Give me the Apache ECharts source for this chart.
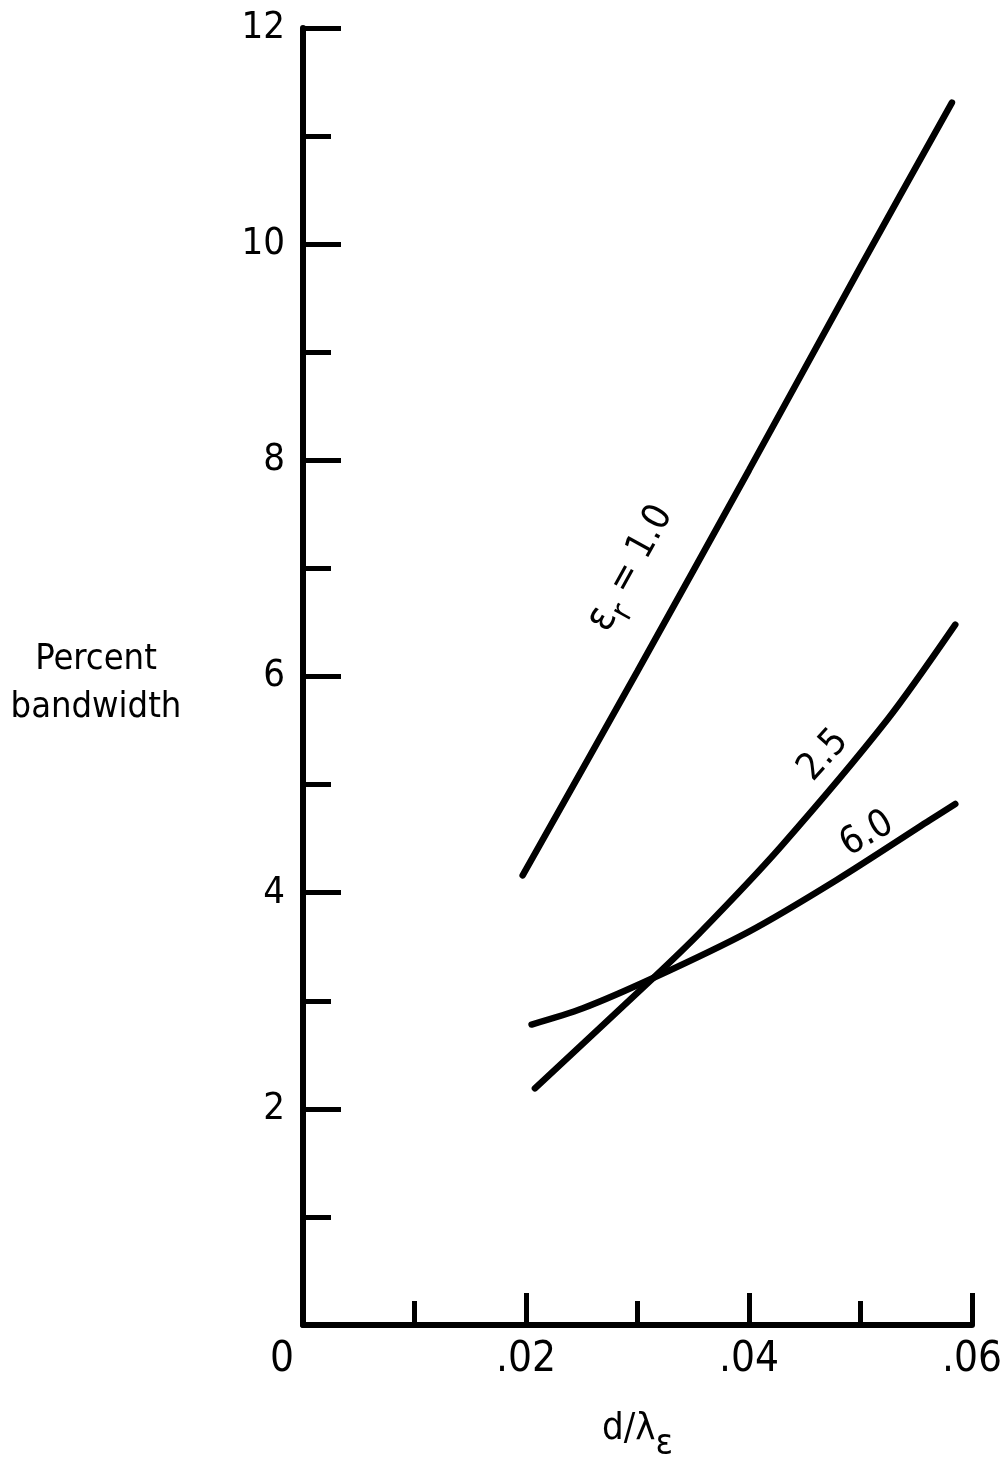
<!DOCTYPE html>
<html>
<head>
<meta charset="utf-8">
<script src="https://cdn.jsdelivr.net/npm/echarts@6/dist/echarts.min.js"></script>
<style>
html,body{margin:0;padding:0;background:#fff;}
#c{width:1000px;height:1466px;}
</style>
</head>
<body>
<div id="c"></div>
<script>
// ---- data ----
const xTickLabels = ['0', '.02', '.04', '.06'];
const yTickLabels = ['', '2', '4', '6', '8', '10', '12'];

const er10X = [0.0197, 0.0300, 0.0400, 0.0500, 0.0582];
const er10Y = [4.16, 6.05, 7.91, 9.79, 11.31];

const er25X = [0.0208, 0.0314, 0.0356, 0.0428, 0.0524, 0.0585];
const er25Y = [2.19, 3.21, 3.63, 4.42, 5.60, 6.48];

const er60X = [0.0205, 0.0251, 0.0314, 0.0400, 0.0479, 0.0562, 0.0585];
const er60Y = [2.78, 2.93, 3.21, 3.64, 4.12, 4.67, 4.82];

const curveNames = ['1.0', '2.5', '6.0'];

function pairs(xs, ys) { return xs.map((x, i) => [x, ys[i]]); }

const FONT = "'Liberation Sans Narrow', 'DejaVu Sans Condensed', sans-serif";
const FONT2 = "'DejaVu Sans Condensed', 'DejaVu Sans', sans-serif";

const chart = echarts.init(document.getElementById('c'), null, {renderer: 'canvas'});

function lineSeries(name, data, labelCoord, rot, labelText, rich) {
  return {
    name: name,
    type: 'line',
    data: data,
    smooth: 0.3,
    showSymbol: false,
    symbol: 'none',
    lineStyle: {color: '#000', width: 6.5, cap: 'round'},
    animation: false,
    markPoint: {
      symbol: 'circle',
      symbolSize: 0,
      data: [{coord: labelCoord}],
      label: {
        show: true,
        position: 'inside',
        rotate: rot,
        formatter: labelText,
        color: '#000',
        fontFamily: FONT2,
        fontSize: 38,
        align: 'center',
        verticalAlign: 'middle',
        rich: rich || {}
      }
    }
  };
}

const option = {
  backgroundColor: '#fff',
  animation: false,
  grid: {left: 303, right: 28, top: 28, bottom: 141, containLabel: false, outerBoundsMode: 'none'},
  xAxis: {
    type: 'value',
    min: 0, max: 0.06, interval: 0.02,
    name: 'd/λ{s|ε}',
    nameLocation: 'middle',
    nameGap: 70,
    nameTextStyle: {
      color: '#000', fontFamily: FONT2, fontSize: 38, lineHeight: 68,
      rich: {s: {fontSize: 36, fontFamily: FONT2, color: '#000', verticalAlign: 'bottom', lineHeight: 36}}
    },
    axisLine: {show: true, onZero: false, lineStyle: {color: '#000', width: 6}},
    axisTick: {show: true, inside: true, length: 32, lineStyle: {color: '#000', width: 5}},
    minorTick: {show: true, splitNumber: 2, length: 24, lineStyle: {color: '#000', width: 5}},
    splitLine: {show: false},
    minorSplitLine: {show: false},
    axisLabel: {
      color: '#000', fontFamily: FONT, fontSize: 42, margin: 14,
      formatter: function (v) {
        const i = Math.round(v / 0.02);
        const t = xTickLabels[i] || '';
        return i === 0 ? '{z|' + t + '}' : t;
      },
      rich: {z: {fontFamily: FONT, fontSize: 42, color: '#000', padding: [0, 42, 0, 0]}}
    }
  },
  yAxis: {
    type: 'value',
    min: 0, max: 12, interval: 2,
    axisLine: {show: true, onZero: false, lineStyle: {color: '#000', width: 6}},
    axisTick: {show: true, inside: true, length: 38, lineStyle: {color: '#000', width: 5}},
    minorTick: {show: true, splitNumber: 2, length: 28, lineStyle: {color: '#000', width: 5}},
    splitLine: {show: false},
    minorSplitLine: {show: false},
    axisLabel: {
      color: '#000', fontFamily: FONT, fontSize: 38, margin: 18,
      formatter: function (v) { return yTickLabels[Math.round(v / 2)] || ''; }
    }
  },
  graphic: [{
    type: 'text',
    x: 96, y: 636,
    style: {
      text: 'Percent\nbandwidth',
      fill: '#000',
      font: '36px ' + FONT2,
      align: 'center',
      verticalAlign: 'top',
      lineHeight: 48
    }
  }],
  series: [
    lineSeries(curveNames[0], pairs(er10X, er10Y), [0.0294, 7.0], 61,
      '{e|ε}{r|r}{t| = 1.0}',
      {e: {fontSize: 42, fontFamily: FONT2, color: '#000', lineHeight: 62},
       r: {fontSize: 32, fontFamily: FONT2, color: '#000', verticalAlign: 'bottom', lineHeight: 32},
       t: {fontSize: 38, fontFamily: FONT2, color: '#000', lineHeight: 62}}),
    lineSeries(curveNames[1], pairs(er25X, er25Y), [0.0467, 5.27], 48, curveNames[1]),
    lineSeries(curveNames[2], pairs(er60X, er60Y), [0.0506, 4.54], 30, curveNames[2])
  ]
};
chart.setOption(option);
</script>
</body>
</html>
